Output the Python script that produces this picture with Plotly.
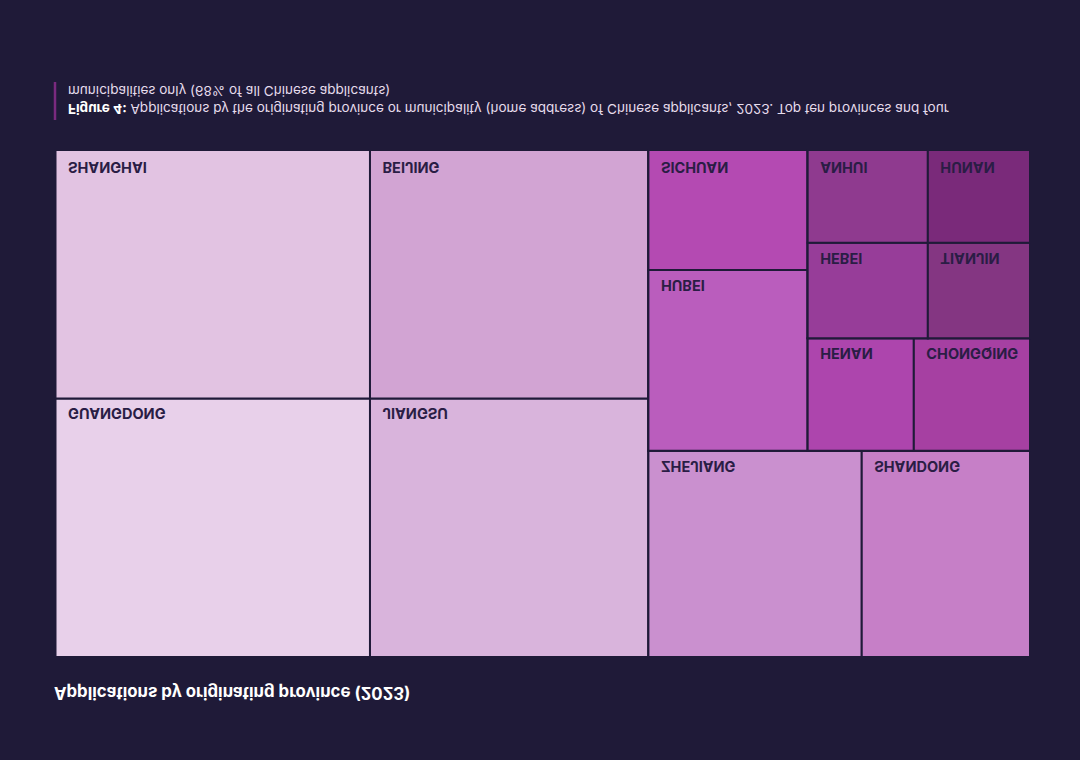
import plotly.graph_objects as go

W, H = 1080, 760
BG = "#1f1a38"
INK = "#2a1d45"

# tile nodes: estimated values (leaf) and grouping used for layout
ids = ["root", "c1", "c2", "c3", "low", "up", "left", "right", "rbot", "rtop", "ra", "rb",
       "Guangdong", "Shanghai", "Jiangsu", "Beijing", "Zhejiang", "Shandong", "Hubei", "Sichuan",
       "Henan", "Chongqing", "Hebei", "Anhui", "Tianjin", "Hunan"]
parents = ["", "root", "root", "root", "c3", "c3", "up", "up", "right", "right", "rtop", "rtop",
           "c1", "c1", "c2", "c2", "low", "low", "left", "left",
           "rbot", "rbot", "ra", "ra", "rb", "rb"]
values = [0] * 12 + [80855, 77715, 71585, 68805, 43771, 34524, 28620, 19000,
                     11872, 12992, 11400, 11100, 9690, 9435]
names = [""] * 12 + ["GUANGDONG", "SHANGHAI", "JIANGSU", "BEIJING", "ZHEJIANG", "SHANDONG", "HUBEI", "SICHUAN",
                     "HENAN", "CHONGQING", "HEBEI", "ANHUI", "TIANJIN", "HUNAN"]
colors = [BG] * 12 + ["#e8d0ea", "#e2c3e2", "#d9b4dc", "#d2a4d3", "#ca90cf", "#c67fc7", "#ba5dbd", "#b44ab2",
                      "#ad45ad", "#a640a2", "#973d99", "#8f3a8f", "#843682", "#7a2a7a"]
tile_text = ["<b>%s</b>" % n if n else "" for n in names]

title = "<b>Applications by originating province (2023)</b>"
caption = ("<b style='color:#ffffff'>Figure 4:</b> Applications by the originating province or municipality (home address) of "
           "Chinese applicants, 2023. Top ten provinces and four<br>municipalities only (68% of all Chinese applicants)")

fig = go.Figure(go.Treemap(
    ids=ids, labels=names, parents=parents, values=values, text=tile_text,
    branchvalues="remainder", sort=False,
    texttemplate="%{text}", textposition="bottom left",
    textfont=dict(family="Inter", size=14.5, color=INK),
    marker=dict(colors=colors, line=dict(color=BG, width=2), depthfade=False,
                pad=dict(t=0, l=0, r=0, b=0)),
    tiling=dict(packing="slice-dice", pad=0),
    pathbar=dict(visible=False),
    domain=dict(x=[55.5 / W, 1030 / W], y=[150 / H, 657 / H]),
    hoverinfo="skip",
))
fig.update_layout(
    width=W, height=H, margin=dict(l=0, r=0, t=0, b=0),
    paper_bgcolor=BG, plot_bgcolor=BG, font=dict(family="Inter"),
    showlegend=False,
    shapes=[dict(type="line", xref="paper", yref="paper", x0=55 / W, x1=55 / W, y0=82 / H, y1=120 / H,
                 line=dict(color="#7a2a7f", width=2.5))],
    annotations=[
        dict(text=title, xref="paper", yref="paper", x=52 / W, y=693 / H, xanchor="left", yanchor="middle",
             showarrow=False, font=dict(family="Inter", size=16.8, color="#ffffff")),
        dict(text=caption, xref="paper", yref="paper", x=66 / W, y=100 / H, xanchor="left", yanchor="middle",
             align="left", showarrow=False, font=dict(family="Inter", size=13.54, color="#e6dcec")),
    ],
)
post = """
document.body.style.margin='0';
document.body.style.background='%s';
var gd=document.getElementById('{plot_id}');
gd.style.transform='scaleY(-1)';
var topRow=['SHANGHAI','BEIJING','SICHUAN','ANHUI','HUNAN'];
gd.querySelectorAll('.slicetext text').forEach(function(t){
  var dy=topRow.indexOf(t.textContent.trim())>=0?-6:-4;
  t.setAttribute('transform',(t.getAttribute('transform')||'')+' translate(9.5,'+dy+')');
});
""" % BG
fig.write_html("out.html", post_script=post, config={"displayModeBar": False})
